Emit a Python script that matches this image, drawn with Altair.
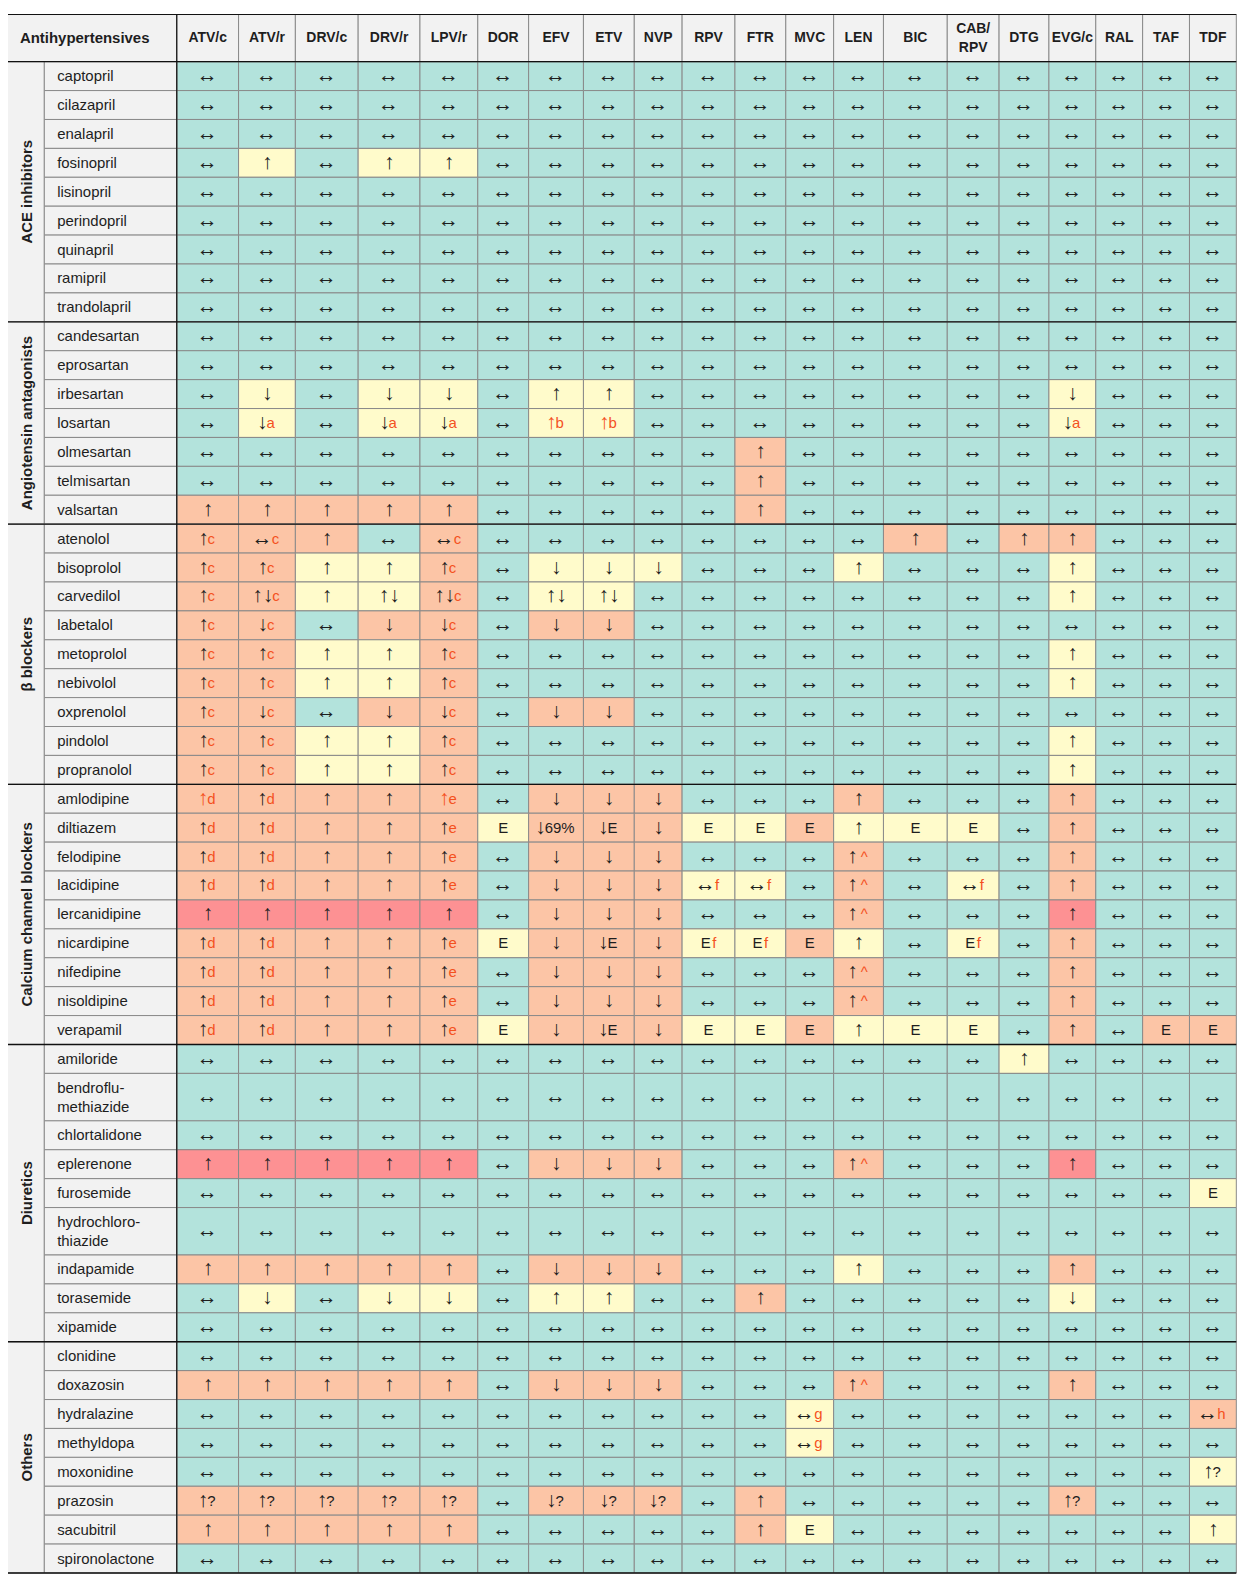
import altair as alt
import pandas as pd

# ---------------- data ----------------
columns = ["ATV/c", "ATV/r", "DRV/c", "DRV/r", "LPV/r", "DOR", "EFV", "ETV", "NVP",
           "RPV", "FTR", "MVC", "LEN", "BIC", "CAB/\nRPV", "DTG", "EVG/c", "RAL", "TAF", "TDF"]
corner_title = "Antihypertensives"
groups = ["ACE inhibitors", "Angiotensin antagonists", "β blockers",
          "Calcium channel blockers", "Diuretics", "Others"]
group_drugs = [
    ["captopril", "cilazapril", "enalapril", "fosinopril", "lisinopril", "perindopril",
     "quinapril", "ramipril", "trandolapril"],
    ["candesartan", "eprosartan", "irbesartan", "losartan", "olmesartan", "telmisartan", "valsartan"],
    ["atenolol", "bisoprolol", "carvedilol", "labetalol", "metoprolol", "nebivolol",
     "oxprenolol", "pindolol", "propranolol"],
    ["amlodipine", "diltiazem", "felodipine", "lacidipine", "lercanidipine", "nicardipine",
     "nifedipine", "nisoldipine", "verapamil"],
    ["amiloride", "bendroflu-\nmethiazide", "chlortalidone", "eplerenone", "furosemide",
     "hydrochloro-\nthiazide", "indapamide", "torasemide", "xipamide"],
    ["clonidine", "doxazosin", "hydralazine", "methyldopa", "moxonidine", "prazosin",
     "sacubitril", "spironolactone"],
]

# cell content per drug: 20 tokens; "main|suffix" -> suffix drawn in red, "_" = small gap
cells = {
    "captopril":     "↔ ↔ ↔ ↔ ↔ ↔ ↔ ↔ ↔ ↔ ↔ ↔ ↔ ↔ ↔ ↔ ↔ ↔ ↔ ↔",
    "cilazapril":    "↔ ↔ ↔ ↔ ↔ ↔ ↔ ↔ ↔ ↔ ↔ ↔ ↔ ↔ ↔ ↔ ↔ ↔ ↔ ↔",
    "enalapril":     "↔ ↔ ↔ ↔ ↔ ↔ ↔ ↔ ↔ ↔ ↔ ↔ ↔ ↔ ↔ ↔ ↔ ↔ ↔ ↔",
    "fosinopril":    "↔ ↑ ↔ ↑ ↑ ↔ ↔ ↔ ↔ ↔ ↔ ↔ ↔ ↔ ↔ ↔ ↔ ↔ ↔ ↔",
    "lisinopril":    "↔ ↔ ↔ ↔ ↔ ↔ ↔ ↔ ↔ ↔ ↔ ↔ ↔ ↔ ↔ ↔ ↔ ↔ ↔ ↔",
    "perindopril":   "↔ ↔ ↔ ↔ ↔ ↔ ↔ ↔ ↔ ↔ ↔ ↔ ↔ ↔ ↔ ↔ ↔ ↔ ↔ ↔",
    "quinapril":     "↔ ↔ ↔ ↔ ↔ ↔ ↔ ↔ ↔ ↔ ↔ ↔ ↔ ↔ ↔ ↔ ↔ ↔ ↔ ↔",
    "ramipril":      "↔ ↔ ↔ ↔ ↔ ↔ ↔ ↔ ↔ ↔ ↔ ↔ ↔ ↔ ↔ ↔ ↔ ↔ ↔ ↔",
    "trandolapril":  "↔ ↔ ↔ ↔ ↔ ↔ ↔ ↔ ↔ ↔ ↔ ↔ ↔ ↔ ↔ ↔ ↔ ↔ ↔ ↔",
    "candesartan":   "↔ ↔ ↔ ↔ ↔ ↔ ↔ ↔ ↔ ↔ ↔ ↔ ↔ ↔ ↔ ↔ ↔ ↔ ↔ ↔",
    "eprosartan":    "↔ ↔ ↔ ↔ ↔ ↔ ↔ ↔ ↔ ↔ ↔ ↔ ↔ ↔ ↔ ↔ ↔ ↔ ↔ ↔",
    "irbesartan":    "↔ ↓ ↔ ↓ ↓ ↔ ↑ ↑ ↔ ↔ ↔ ↔ ↔ ↔ ↔ ↔ ↓ ↔ ↔ ↔",
    "losartan":      "↔ ↓|a ↔ ↓|a ↓|a ↔ |↑b |↑b ↔ ↔ ↔ ↔ ↔ ↔ ↔ ↔ ↓|a ↔ ↔ ↔",
    "olmesartan":    "↔ ↔ ↔ ↔ ↔ ↔ ↔ ↔ ↔ ↔ ↑ ↔ ↔ ↔ ↔ ↔ ↔ ↔ ↔ ↔",
    "telmisartan":   "↔ ↔ ↔ ↔ ↔ ↔ ↔ ↔ ↔ ↔ ↑ ↔ ↔ ↔ ↔ ↔ ↔ ↔ ↔ ↔",
    "valsartan":     "↑ ↑ ↑ ↑ ↑ ↔ ↔ ↔ ↔ ↔ ↑ ↔ ↔ ↔ ↔ ↔ ↔ ↔ ↔ ↔",
    "atenolol":      "↑|c ↔|c ↑ ↔ ↔|c ↔ ↔ ↔ ↔ ↔ ↔ ↔ ↔ ↑ ↔ ↑ ↑ ↔ ↔ ↔",
    "bisoprolol":    "↑|c ↑|c ↑ ↑ ↑|c ↔ ↓ ↓ ↓ ↔ ↔ ↔ ↑ ↔ ↔ ↔ ↑ ↔ ↔ ↔",
    "carvedilol":    "↑|c ↑↓|c ↑ ↑↓ ↑↓|c ↔ ↑↓ ↑↓ ↔ ↔ ↔ ↔ ↔ ↔ ↔ ↔ ↑ ↔ ↔ ↔",
    "labetalol":     "↑|c ↓|c ↔ ↓ ↓|c ↔ ↓ ↓ ↔ ↔ ↔ ↔ ↔ ↔ ↔ ↔ ↔ ↔ ↔ ↔",
    "metoprolol":    "↑|c ↑|c ↑ ↑ ↑|c ↔ ↔ ↔ ↔ ↔ ↔ ↔ ↔ ↔ ↔ ↔ ↑ ↔ ↔ ↔",
    "nebivolol":     "↑|c ↑|c ↑ ↑ ↑|c ↔ ↔ ↔ ↔ ↔ ↔ ↔ ↔ ↔ ↔ ↔ ↑ ↔ ↔ ↔",
    "oxprenolol":    "↑|c ↓|c ↔ ↓ ↓|c ↔ ↓ ↓ ↔ ↔ ↔ ↔ ↔ ↔ ↔ ↔ ↔ ↔ ↔ ↔",
    "pindolol":      "↑|c ↑|c ↑ ↑ ↑|c ↔ ↔ ↔ ↔ ↔ ↔ ↔ ↔ ↔ ↔ ↔ ↑ ↔ ↔ ↔",
    "propranolol":   "↑|c ↑|c ↑ ↑ ↑|c ↔ ↔ ↔ ↔ ↔ ↔ ↔ ↔ ↔ ↔ ↔ ↑ ↔ ↔ ↔",
    "amlodipine":    "|↑d ↑|d ↑ ↑ |↑e ↔ ↓ ↓ ↓ ↔ ↔ ↔ ↑ ↔ ↔ ↔ ↑ ↔ ↔ ↔",
    "diltiazem":     "↑|d ↑|d ↑ ↑ ↑|e E ↓69% ↓E ↓ E E E ↑ E E ↔ ↑ ↔ ↔ ↔",
    "felodipine":    "↑|d ↑|d ↑ ↑ ↑|e ↔ ↓ ↓ ↓ ↔ ↔ ↔ ↑|_^ ↔ ↔ ↔ ↑ ↔ ↔ ↔",
    "lacidipine":    "↑|d ↑|d ↑ ↑ ↑|e ↔ ↓ ↓ ↓ ↔|f ↔|f ↔ ↑|_^ ↔ ↔|f ↔ ↑ ↔ ↔ ↔",
    "lercanidipine": "↑ ↑ ↑ ↑ ↑ ↔ ↓ ↓ ↓ ↔ ↔ ↔ ↑|_^ ↔ ↔ ↔ ↑ ↔ ↔ ↔",
    "nicardipine":   "↑|d ↑|d ↑ ↑ ↑|e E ↓ ↓E ↓ E|f E|f E ↑ ↔ E|f ↔ ↑ ↔ ↔ ↔",
    "nifedipine":    "↑|d ↑|d ↑ ↑ ↑|e ↔ ↓ ↓ ↓ ↔ ↔ ↔ ↑|_^ ↔ ↔ ↔ ↑ ↔ ↔ ↔",
    "nisoldipine":   "↑|d ↑|d ↑ ↑ ↑|e ↔ ↓ ↓ ↓ ↔ ↔ ↔ ↑|_^ ↔ ↔ ↔ ↑ ↔ ↔ ↔",
    "verapamil":     "↑|d ↑|d ↑ ↑ ↑|e E ↓ ↓E ↓ E E E ↑ E E ↔ ↑ ↔ E E",
    "amiloride":     "↔ ↔ ↔ ↔ ↔ ↔ ↔ ↔ ↔ ↔ ↔ ↔ ↔ ↔ ↔ ↑ ↔ ↔ ↔ ↔",
    "bendroflu-\nmethiazide": "↔ ↔ ↔ ↔ ↔ ↔ ↔ ↔ ↔ ↔ ↔ ↔ ↔ ↔ ↔ ↔ ↔ ↔ ↔ ↔",
    "chlortalidone": "↔ ↔ ↔ ↔ ↔ ↔ ↔ ↔ ↔ ↔ ↔ ↔ ↔ ↔ ↔ ↔ ↔ ↔ ↔ ↔",
    "eplerenone":    "↑ ↑ ↑ ↑ ↑ ↔ ↓ ↓ ↓ ↔ ↔ ↔ ↑|_^ ↔ ↔ ↔ ↑ ↔ ↔ ↔",
    "furosemide":    "↔ ↔ ↔ ↔ ↔ ↔ ↔ ↔ ↔ ↔ ↔ ↔ ↔ ↔ ↔ ↔ ↔ ↔ ↔ E",
    "hydrochloro-\nthiazide": "↔ ↔ ↔ ↔ ↔ ↔ ↔ ↔ ↔ ↔ ↔ ↔ ↔ ↔ ↔ ↔ ↔ ↔ ↔ ↔",
    "indapamide":    "↑ ↑ ↑ ↑ ↑ ↔ ↓ ↓ ↓ ↔ ↔ ↔ ↑ ↔ ↔ ↔ ↑ ↔ ↔ ↔",
    "torasemide":    "↔ ↓ ↔ ↓ ↓ ↔ ↑ ↑ ↔ ↔ ↑ ↔ ↔ ↔ ↔ ↔ ↓ ↔ ↔ ↔",
    "xipamide":      "↔ ↔ ↔ ↔ ↔ ↔ ↔ ↔ ↔ ↔ ↔ ↔ ↔ ↔ ↔ ↔ ↔ ↔ ↔ ↔",
    "clonidine":     "↔ ↔ ↔ ↔ ↔ ↔ ↔ ↔ ↔ ↔ ↔ ↔ ↔ ↔ ↔ ↔ ↔ ↔ ↔ ↔",
    "doxazosin":     "↑ ↑ ↑ ↑ ↑ ↔ ↓ ↓ ↓ ↔ ↔ ↔ ↑|_^ ↔ ↔ ↔ ↑ ↔ ↔ ↔",
    "hydralazine":   "↔ ↔ ↔ ↔ ↔ ↔ ↔ ↔ ↔ ↔ ↔ ↔|g ↔ ↔ ↔ ↔ ↔ ↔ ↔ ↔|h",
    "methyldopa":    "↔ ↔ ↔ ↔ ↔ ↔ ↔ ↔ ↔ ↔ ↔ ↔|g ↔ ↔ ↔ ↔ ↔ ↔ ↔ ↔",
    "moxonidine":    "↔ ↔ ↔ ↔ ↔ ↔ ↔ ↔ ↔ ↔ ↔ ↔ ↔ ↔ ↔ ↔ ↔ ↔ ↔ ↑?",
    "prazosin":      "↑? ↑? ↑? ↑? ↑? ↔ ↓? ↓? ↓? ↔ ↑ ↔ ↔ ↔ ↔ ↔ ↑? ↔ ↔ ↔",
    "sacubitril":    "↑ ↑ ↑ ↑ ↑ ↔ ↔ ↔ ↔ ↔ ↑ E ↔ ↔ ↔ ↔ ↔ ↔ ↔ ↑",
    "spironolactone": "↔ ↔ ↔ ↔ ↔ ↔ ↔ ↔ ↔ ↔ ↔ ↔ ↔ ↔ ↔ ↔ ↔ ↔ ↔ ↔",
}

# interaction level per cell: G = no interaction, Y = weak, O = potential, R = do not co-administer
levels = {
    "captopril":     "GGGGGGGGGGGGGGGGGGGG",
    "cilazapril":    "GGGGGGGGGGGGGGGGGGGG",
    "enalapril":     "GGGGGGGGGGGGGGGGGGGG",
    "fosinopril":    "GYGYYGGGGGGGGGGGGGGG",
    "lisinopril":    "GGGGGGGGGGGGGGGGGGGG",
    "perindopril":   "GGGGGGGGGGGGGGGGGGGG",
    "quinapril":     "GGGGGGGGGGGGGGGGGGGG",
    "ramipril":      "GGGGGGGGGGGGGGGGGGGG",
    "trandolapril":  "GGGGGGGGGGGGGGGGGGGG",
    "candesartan":   "GGGGGGGGGGGGGGGGGGGG",
    "eprosartan":    "GGGGGGGGGGGGGGGGGGGG",
    "irbesartan":    "GYGYYGYYGGGGGGGGYGGG",
    "losartan":      "GYGYYGYYGGGGGGGGYGGG",
    "olmesartan":    "GGGGGGGGGGOGGGGGGGGG",
    "telmisartan":   "GGGGGGGGGGOGGGGGGGGG",
    "valsartan":     "OOOOOGGGGGOGGGGGGGGG",
    "atenolol":      "OOOGOGGGGGGGGOGOOGGG",
    "bisoprolol":    "OOYYOGYYYGGGYGGGYGGG",
    "carvedilol":    "OOYYOGYYGGGGGGGGYGGG",
    "labetalol":     "OOGOOGOOGGGGGGGGGGGG",
    "metoprolol":    "OOYYOGGGGGGGGGGGYGGG",
    "nebivolol":     "OOYYOGGGGGGGGGGGYGGG",
    "oxprenolol":    "OOGOOGOOGGGGGGGGGGGG",
    "pindolol":      "OOYYOGGGGGGGGGGGYGGG",
    "propranolol":   "OOYYOGGGGGGGGGGGYGGG",
    "amlodipine":    "OOOOOGOOOGGGOGGGOGGG",
    "diltiazem":     "OOOOOYOOOYYOYYYGOGGG",
    "felodipine":    "OOOOOGOOOGGGOGGGOGGG",
    "lacidipine":    "OOOOOGOOOYYGOGYGOGGG",
    "lercanidipine": "RRRRRGOOOGGGOGGGRGGG",
    "nicardipine":   "OOOOOYOOOYYOYGYGOGGG",
    "nifedipine":    "OOOOOGOOOGGGOGGGOGGG",
    "nisoldipine":   "OOOOOGOOOGGGOGGGOGGG",
    "verapamil":     "OOOOOYOOOYYOYYYGOGOO",
    "amiloride":     "GGGGGGGGGGGGGGGYGGGG",
    "bendroflu-\nmethiazide": "GGGGGGGGGGGGGGGGGGGG",
    "chlortalidone": "GGGGGGGGGGGGGGGGGGGG",
    "eplerenone":    "RRRRRGOOOGGGOGGGRGGG",
    "furosemide":    "GGGGGGGGGGGGGGGGGGGY",
    "hydrochloro-\nthiazide": "GGGGGGGGGGGGGGGGGGGG",
    "indapamide":    "OOOOOGOOOGGGYGGGOGGG",
    "torasemide":    "GYGYYGYYGGOGGGGGYGGG",
    "xipamide":      "GGGGGGGGGGGGGGGGGGGG",
    "clonidine":     "GGGGGGGGGGGGGGGGGGGG",
    "doxazosin":     "OOOOOGOOOGGGOGGGOGGG",
    "hydralazine":   "GGGGGGGGGGGYGGGGGGGO",
    "methyldopa":    "GGGGGGGGGGGYGGGGGGGG",
    "moxonidine":    "GGGGGGGGGGGGGGGGGGGY",
    "prazosin":      "OOOOOGOOOGOGGGGGOGGG",
    "sacubitril":    "OOOOOGGGGGOYGGGGGGGY",
    "spironolactone": "GGGGGGGGGGGGGGGGGGGG",
}

# ---------------- styles / layout ----------------
LEVEL_COLORS = {"G": "#b3e3dc", "Y": "#fffbcb", "O": "#fcc5a6", "R": "#fd9193"}
LABEL_BG = "#f2f2f2"
GRID = "#8a8a8a"
DARK = "#1e1e1e"
RED_TXT = "#f4511e"
FONT = "Liberation Sans"
FS = 15          # letters in cells
AFS = 21         # arrow glyphs in cells
HDR_FS = 14
LINE_H = 19

TABLE_LEFT, GROUP_RIGHT, NAME_RIGHT = 7.3, 44.3, 177.3
COL_WIDTHS = [62, 57, 63, 62, 58, 51, 55, 51, 48, 53, 51, 48, 50, 64, 52, 50, 47, 47, 47, 47]
TABLE_TOP, HEADER_BOTTOM = 12.0, 59.3
ROW_H, TALL_H = 29.0, 47.6
NAME_X = 57.3

ARROWS = "↑↓↔"
# (advance, left bearing, right bearing) in em
GLYPH = {"↑": (0.5, 0.1, 0.12), "↓": (0.5, 0.1, 0.12), "↔": (1.0, 0.15, 0.1)}
CHAR_W = {"a": 0.556, "b": 0.556, "c": 0.5, "d": 0.556, "e": 0.556, "f": 0.278,
          "g": 0.556, "h": 0.556, "^": 0.469, "E": 0.667, "?": 0.556, "6": 0.556,
          "9": 0.556, "%": 0.889}
GAP = 4.0
PAD = 1.5


def runs(s, color):
    """split a string into arrow / letter runs"""
    out = []
    for ch in s:
        is_arrow = ch in ARROWS
        if out and out[-1][3] == is_arrow:
            out[-1][0] += ch
        else:
            out.append([ch, AFS if is_arrow else FS, color, is_arrow])
    return out


def visible(text, size, is_arrow):
    """return (left bearing, visible width) in px"""
    if not is_arrow:
        return 0.0, sum(CHAR_W.get(ch, 0.556) for ch in text) * size
    adv = sum(GLYPH[ch][0] for ch in text)
    lb = GLYPH[text[0]][1]
    rb = GLYPH[text[-1]][2]
    return lb * size, (adv - lb - rb) * size


col_edges = [NAME_RIGHT]
for w in COL_WIDTHS:
    col_edges.append(col_edges[-1] + w)
TABLE_RIGHT = col_edges[-1]

cell_recs, seg_recs, name_recs, group_recs, sep_ys = [], [], [], [], []
y = HEADER_BOTTOM
for g, drugs in zip(groups, group_drugs):
    gy0 = y
    for d in drugs:
        h = TALL_H if "\n" in d else ROW_H
        y0, y1 = y, y + h
        yc = (y0 + y1) / 2
        nl = d.count("\n")
        name_recs.append(dict(x0=GROUP_RIGHT, x1=NAME_RIGHT, y0=y0, y1=y1,
                              yt=yc - nl * LINE_H / 2, xt=NAME_X, label=d))
        toks = cells[d].split(" ")
        lv = levels[d]
        for j, tok in enumerate(toks):
            x0, x1 = col_edges[j], col_edges[j + 1]
            xc = (x0 + x1) / 2
            cell_recs.append(dict(x0=x0, x1=x1, y0=y0, y1=y1, bg=LEVEL_COLORS[lv[j]]))
            main, suf = tok.split("|") if "|" in tok else (tok, "")
            gap = GAP if suf.startswith("_") else 0.0
            suf = suf.replace("_", "")
            segs = runs(main, DARK) + runs(suf, RED_TXT)
            n_main = len(runs(main, DARK))
            metrics = [visible(t, s, a) for t, s, _, a in segs]
            total = sum(vw for _, vw in metrics) + gap + PAD * (len(segs) - 1)
            cx = xc - total / 2
            for k, ((t, s, c, a), (lb, vw)) in enumerate(zip(segs, metrics)):
                if k == n_main and k > 0:
                    cx += gap
                seg_recs.append(dict(x=cx - lb, y=yc, t=t, size=s, col=c))
                cx += vw + PAD
        y = y1
    group_recs.append(dict(x0=TABLE_LEFT, x1=GROUP_RIGHT, y0=gy0, y1=y,
                           xc=(TABLE_LEFT + GROUP_RIGHT) / 2 + 1.5, yc=(gy0 + y) / 2, label=g))
    sep_ys.append(y)
TABLE_BOTTOM = y

cell_df = pd.DataFrame(cell_recs)
seg_df = pd.DataFrame(seg_recs)
name_df = pd.DataFrame(name_recs)
group_df = pd.DataFrame(group_recs)
hc = (TABLE_TOP + HEADER_BOTTOM) / 2
header_df = pd.DataFrame(
    [dict(x0=TABLE_LEFT, x1=NAME_RIGHT, y0=TABLE_TOP, y1=HEADER_BOTTOM, xc=20.0,
          yt=hc, label=corner_title, kind="corner")] +
    [dict(x0=col_edges[j], x1=col_edges[j + 1], y0=TABLE_TOP, y1=HEADER_BOTTOM,
          xc=(col_edges[j] + col_edges[j + 1]) / 2, yt=hc - c.count("\n") * LINE_H / 2,
          label=c, kind="col") for j, c in enumerate(columns)]
)
hrule_df = pd.DataFrame(
    [dict(x0=TABLE_LEFT, x1=TABLE_RIGHT, y=TABLE_TOP, w=1.2),
     dict(x0=TABLE_LEFT, x1=TABLE_RIGHT, y=HEADER_BOTTOM, w=1.4)] +
    [dict(x0=TABLE_LEFT, x1=TABLE_RIGHT, y=sy, w=1.4) for sy in sep_ys]
)
vrule_df = pd.DataFrame([
    dict(x=TABLE_LEFT, y0=TABLE_TOP, y1=TABLE_BOTTOM),
    dict(x=NAME_RIGHT, y0=TABLE_TOP, y1=TABLE_BOTTOM),
])

# ---------------- chart ----------------
W, H = 1240, 1569
xs = alt.Scale(domain=[8, 8 + W], nice=False, zero=False)
ys = alt.Scale(domain=[8, 8 + H], nice=False, zero=False, reverse=True)


def X(f):
    return alt.X(f, type="quantitative", scale=xs, axis=None)


def Y(f):
    return alt.Y(f, type="quantitative", scale=ys, axis=None)


rect_enc = dict(x=X("x0"), x2=alt.X2("x1"), y=Y("y0"), y2=alt.Y2("y1"))

cell_rect = alt.Chart(cell_df).mark_rect(stroke=GRID, strokeWidth=1).encode(
    fill=alt.Fill("bg:N", scale=None), **rect_enc)
label_rects = alt.layer(
    alt.Chart(header_df).mark_rect(fill=LABEL_BG, stroke=GRID, strokeWidth=1).encode(**rect_enc),
    alt.Chart(name_df).mark_rect(fill=LABEL_BG, stroke=GRID, strokeWidth=1).encode(**rect_enc),
    alt.Chart(group_df).mark_rect(fill=LABEL_BG, stroke=GRID, strokeWidth=1).encode(**rect_enc),
)

hrules = alt.Chart(hrule_df).mark_rule(color="#111111").encode(
    x=X("x0"), x2=alt.X2("x1"), y=Y("y"), strokeWidth=alt.StrokeWidth("w:Q", scale=None))
vrules = alt.Chart(vrule_df).mark_rule(color="#111111", strokeWidth=1.2).encode(
    x=X("x"), y=Y("y0"), y2=alt.Y2("y1"))

corner_txt = alt.Chart(header_df[header_df.kind == "corner"]).mark_text(
    font=FONT, fontSize=15, fontWeight="bold", align="left", baseline="middle", color=DARK
).encode(x=X("xc"), y=Y("yt"), text="label:N")
col_txt = alt.Chart(header_df[header_df.kind == "col"]).mark_text(
    font=FONT, fontSize=HDR_FS, fontWeight="bold", align="center", baseline="middle",
    color=DARK, lineBreak="\n", lineHeight=LINE_H
).encode(x=X("xc"), y=Y("yt"), text="label:N")
group_txt = alt.Chart(group_df).mark_text(
    font=FONT, fontSize=15, fontWeight="bold", align="center", baseline="middle",
    angle=270, color=DARK
).encode(x=X("xc"), y=Y("yc"), text="label:N")
name_txt = alt.Chart(name_df).mark_text(
    font=FONT, fontSize=15, align="left", baseline="middle", color=DARK,
    lineBreak="\n", lineHeight=LINE_H
).encode(x=X("xt"), y=Y("yt"), text="label:N")

seg_txt = alt.Chart(seg_df).mark_text(
    font=FONT, align="left", baseline="middle"
).encode(
    x=X("x"), y=Y("y"), text="t:N",
    color=alt.Color("col:N", scale=None),
    size=alt.Size("size:Q", scale=None),
)

chart = alt.layer(
    cell_rect, label_rects, hrules, vrules,
    corner_txt, col_txt, group_txt, name_txt, seg_txt,
).properties(
    width=W, height=H, padding=0, autosize=alt.AutoSizeParams(type="none"),
    background="white"
).configure_view(stroke=None)

chart.save("out.html", embed_options={"renderer": "svg", "actions": False})
